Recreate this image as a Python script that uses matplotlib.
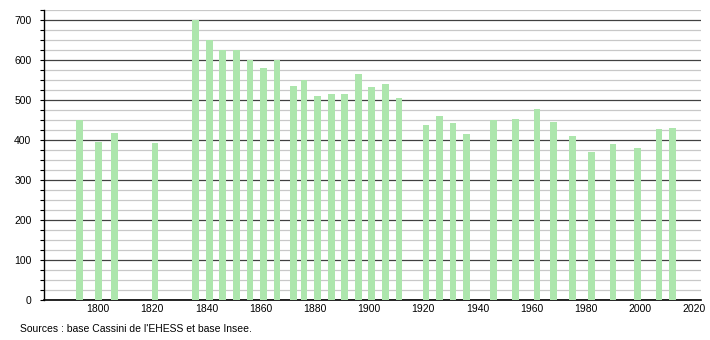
import matplotlib
matplotlib.use("Agg")
import matplotlib.pyplot as plt
from matplotlib.ticker import MultipleLocator

years = [1793, 1800, 1806, 1821, 1836, 1841, 1846, 1851, 1856, 1861, 1866,
         1872, 1876, 1881, 1886, 1891, 1896, 1901, 1906, 1911, 1921, 1926,
         1931, 1936, 1946, 1954, 1962, 1968, 1975, 1982, 1990, 1999, 2007, 2012]
population = [450, 395, 417, 392, 700, 650, 624, 624, 600, 580, 600,
              535, 550, 510, 515, 515, 565, 532, 540, 505, 437, 460,
              442, 415, 450, 452, 477, 445, 410, 370, 390, 380, 427, 430]
x_ticks = [1800, 1820, 1840, 1860, 1880, 1900, 1920, 1940, 1960, 1980, 2000, 2020]
y_ticks = [0, 100, 200, 300, 400, 500, 600, 700]
source = "Sources : base Cassini de l'EHESS et base Insee."

plt.rcParams['font.family'] = ['Liberation Sans', 'DejaVu Sans']

fig = plt.figure(figsize=(7.1, 3.4), dpi=100)
ax = fig.add_axes([44/710, 1-300/340, (701-44)/710, 290/340])

ax.bar(years, population, width=2.5, color='#ade6ad', zorder=3)

ax.set_xlim(1780, 2022.5)
ax.set_ylim(0, 725)
ax.set_yticks(y_ticks)
ax.yaxis.set_minor_locator(MultipleLocator(25))
ax.set_xticks(x_ticks)
ax.set_xticklabels([str(t) for t in x_ticks])

ax.grid(axis='y', which='minor', color='#c8c8c8', linewidth=0.9, zorder=1)
ax.grid(axis='y', which='major', color='#404040', linewidth=0.9, zorder=2)

for s in ['top', 'right']:
    ax.spines[s].set_visible(False)
ax.spines['left'].set_color('black')
ax.spines['bottom'].set_color('black')
ax.spines['left'].set_linewidth(1.0)
ax.spines['bottom'].set_linewidth(1.2)

ax.tick_params(axis='y', which='both', length=3, width=0.8, labelsize=7.5, pad=6)
ax.tick_params(axis='x', which='both', length=0, labelsize=7.5, pad=3)

fig.text(20/710, 1-329/340, source, fontsize=7.5, va='center', ha='left')

fig.savefig("out.png", dpi=100)
